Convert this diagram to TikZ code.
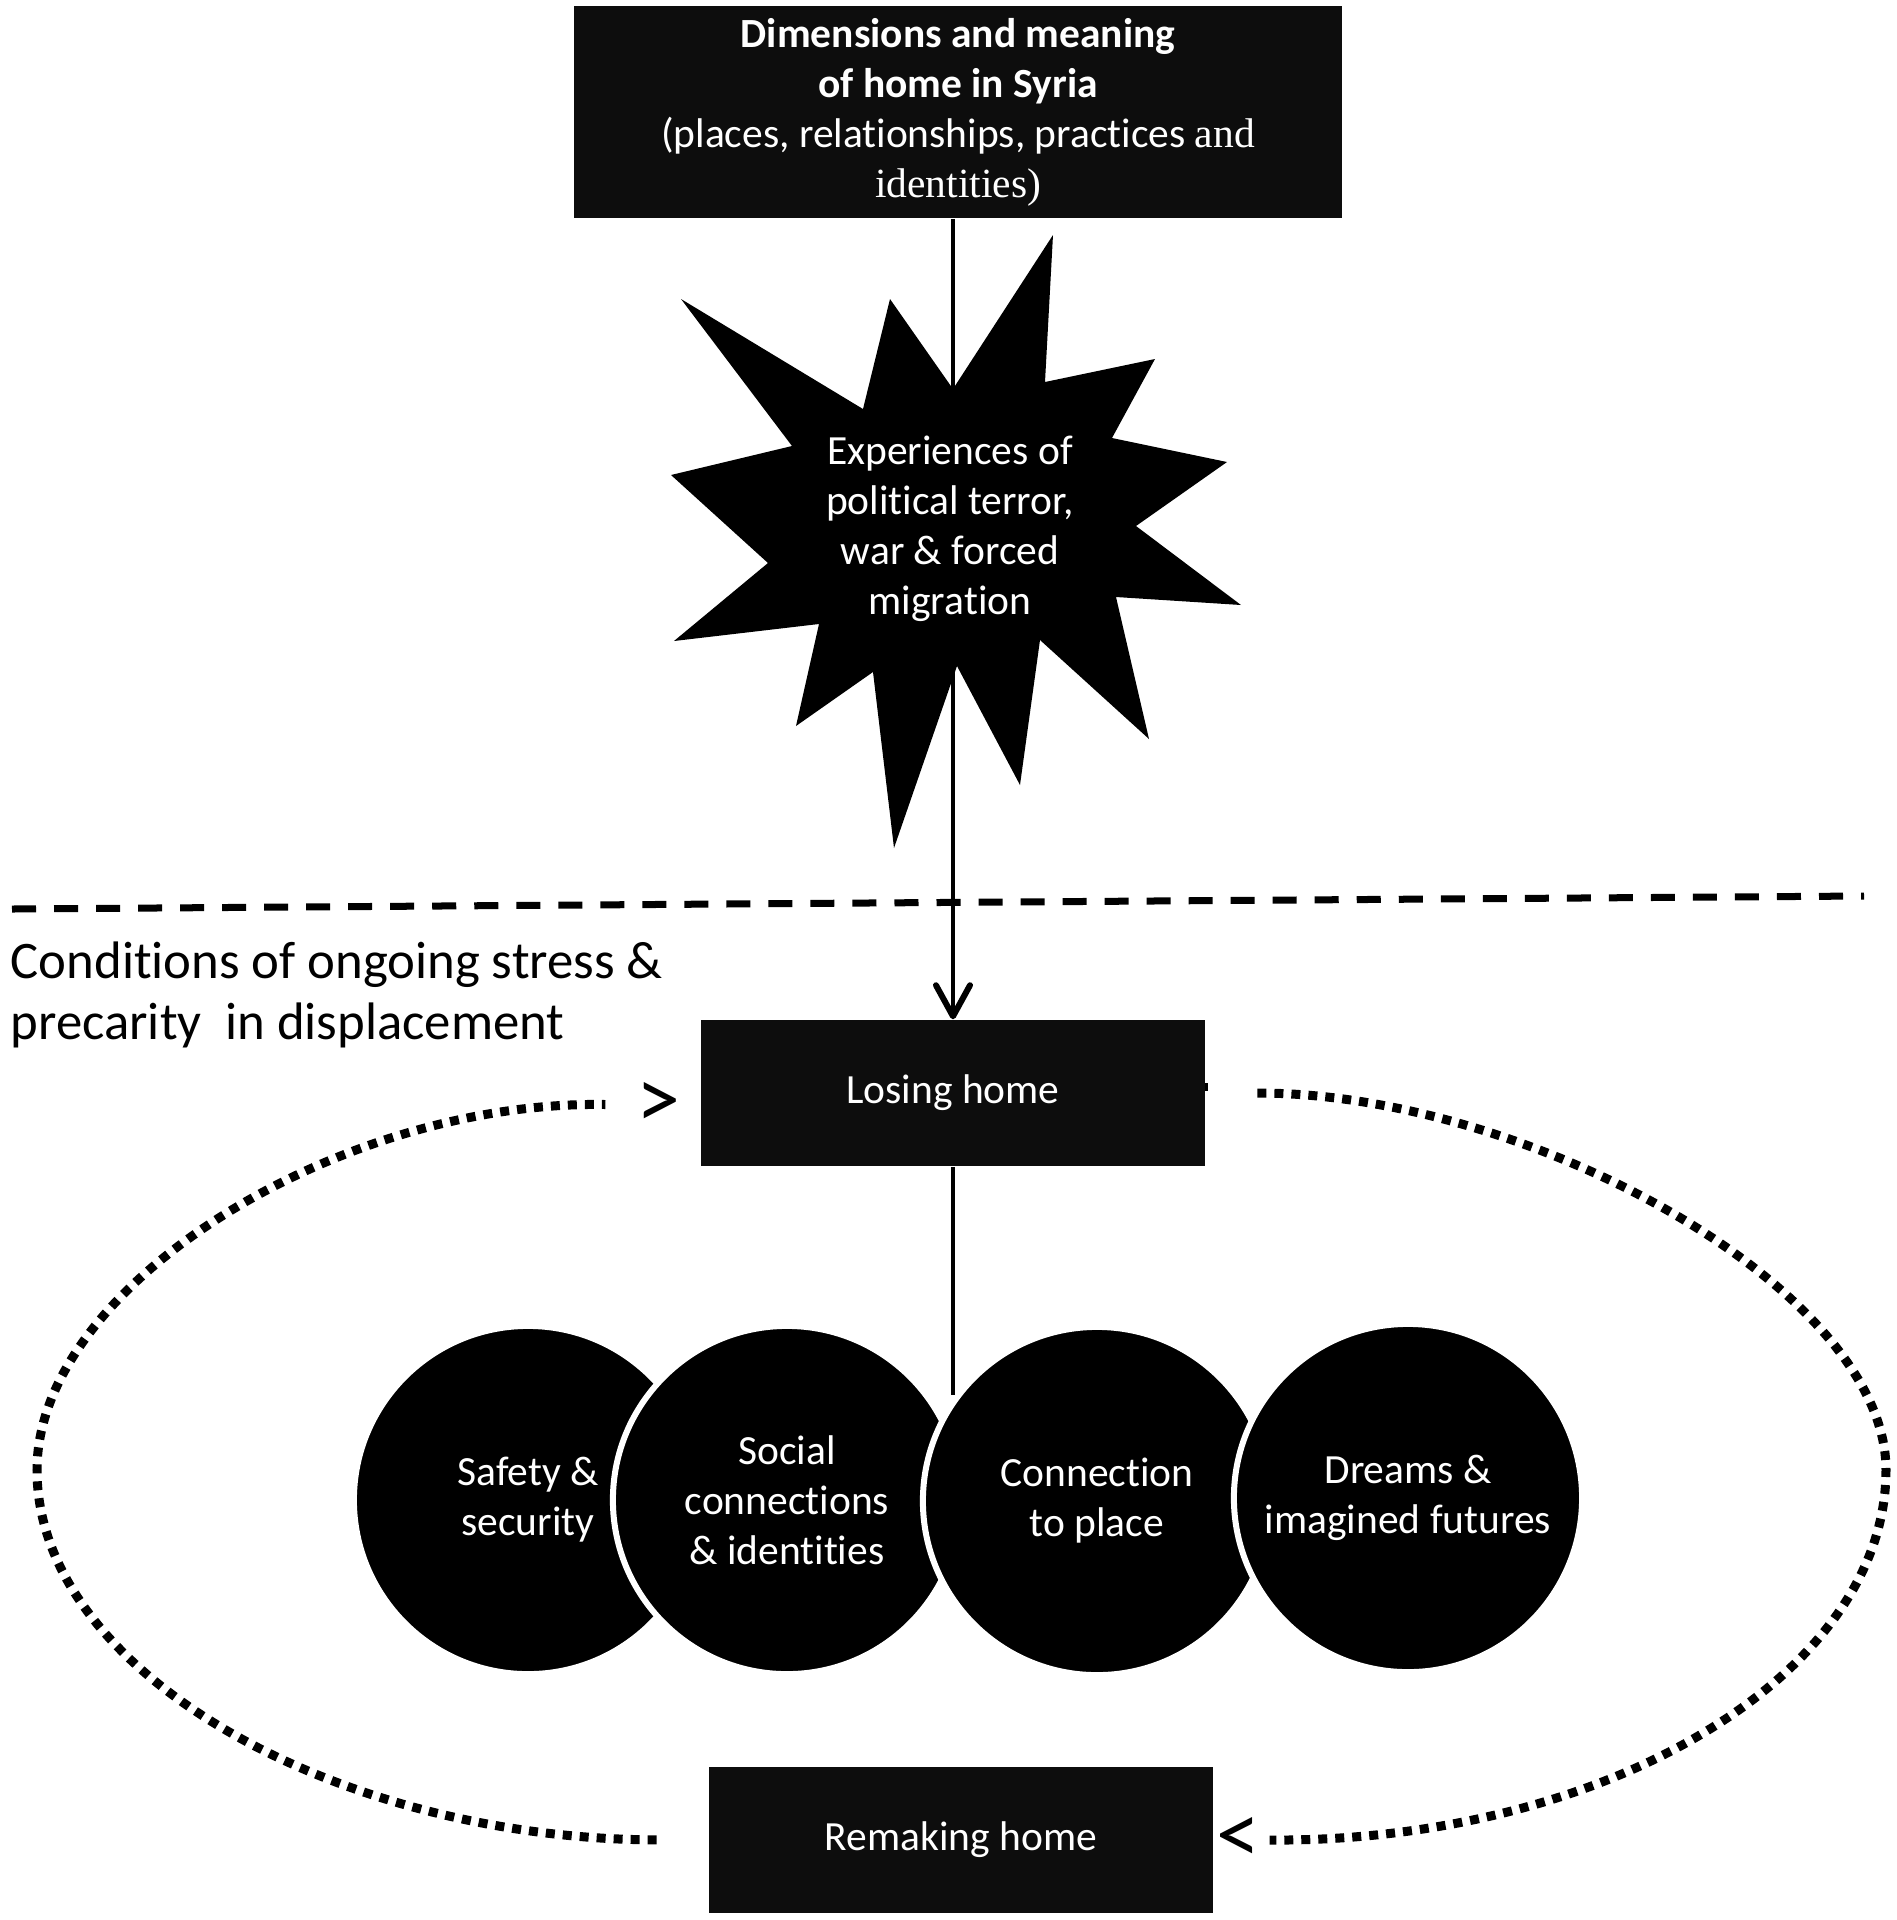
\documentclass[tikz,border=0pt]{standalone}
\usepackage{fontspec}
\setmainfont{Carlito}[Ligatures=NoCommon]
\newfontfamily\serifpart{Liberation Serif}
\usepackage{xcolor}
\usepackage{tikz}
\usetikzlibrary{arrows.meta, positioning}
\definecolor{boxblack}{RGB}{13,13,13}

\begin{document}
\begin{tikzpicture}[
    x=0.01cm, y=-0.01cm,
    box/.style={rectangle, fill=boxblack, text=white, align=center, inner sep=0pt, font=\fontsize{11.8}{14.2}\selectfont},
    disc/.style={circle, fill=black, draw=white, line width=0.06cm, minimum size=3.48cm, text=white, align=center, inner sep=0pt, font=\fontsize{11.8}{14.2}\selectfont},
    arrow/.style={-{Straight Barb[length=0.31cm, width=0.34cm, line width=0.06cm, round]}, line width=0.045cm},
    link/.style={line width=0.045cm},
    cycleline/.style={line width=0.09cm, dash pattern=on 0.09cm off 0.08cm},
    divider/.style={line width=0.07cm, dash pattern=on 0.24cm off 0.18cm},
    chev/.style={inner sep=0pt, font=\fontsize{25}{25}\selectfont}
]
\useasboundingbox (0,0) rectangle (1897,1920);

\node[box, minimum width=7.68cm, minimum height=2.12cm] (dims) at (958,112) {\textbf{Dimensions and meaning}\\\textbf{of home in Syria}\\(places, relationships, practices {\serifpart and}\\{\serifpart identities)}};
\node[box, minimum width=5.03cm, minimum height=1.46cm] (losing) at (953,1093) {Losing home};
\node[box, minimum width=5.03cm, minimum height=1.46cm] (remaking) at (961,1840) {Remaking home};
\node[anchor=west, align=left, inner sep=0pt, font=\fontsize{15}{17.4}\selectfont] (stress) at (10,995) {Conditions of ongoing stress \&\\precarity\ \ in displacement};
\node[chev, left=0.2cm of losing, yshift=-0.12cm] (backin) {>};
\node[chev, right=0.02cm of remaking] (backout) {<};
\coordinate (join) at (953,1395);

\draw[divider] (12,909) -- (1864,896);
\draw[arrow] (dims.south -| losing.north) -- (losing.north);
\fill (681,299) -- (863,409) -- (890,299) -- (953,389) -- (1053,235) -- (1045,382) -- (1155,359) -- (1112,438) -- (1227,462) -- (1136,526) -- (1241,605) -- (1116,597) -- (1149,739) -- (1040,640) -- (1020,785) -- (957,666) -- (894,848) -- (873,672) -- (796,726) -- (819,624) -- (674,641) -- (768,563) -- (671,475) -- (792,446) -- cycle;
\node[text=white, align=center, inner sep=0pt, font=\fontsize{11.8}{14.2}\selectfont] (terror) at (950,529) {Experiences of\\political terror,\\war \& forced\\migration};
\draw[link] (losing.south) -- (join);
\fill ([yshift=0.02cm]losing.east) rectangle ++(3,-8);

\node[disc] (safety) at (528,1500) {Safety \&\\security};
\node[disc] (social) at (787,1500) {Social\\connections\\\& identities};
\node[disc] (place) at (1097,1501) {Connection\\to place};
\node[disc] (dreams) at (1408,1498) {Dreams \&\\imagined futures};

\draw[cycleline, shorten <=0.52cm, shorten >=0.3cm] (remaking.west) .. controls (339,1839) and (37,1674) .. (37,1470) .. controls (37,1285) and (340,1100) .. (backin.west);
\draw[cycleline, shorten <=0.52cm, shorten >=0.09cm] (losing.east) .. controls (1530,1093) and (1886,1290) .. (1886,1470) .. controls (1886,1675) and (1606,1842) .. (backout.east);
\end{tikzpicture}
\end{document}
